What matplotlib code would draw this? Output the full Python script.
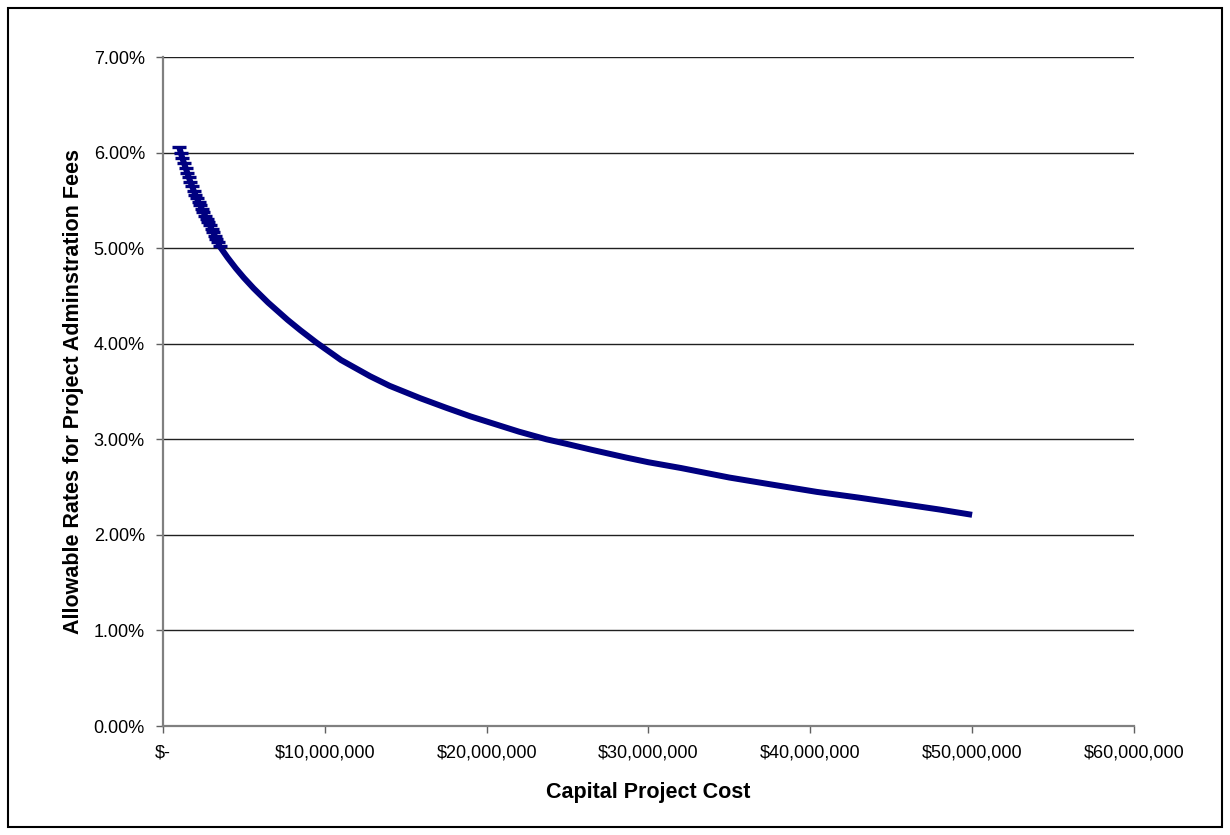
import matplotlib
matplotlib.use("Agg")
import matplotlib.pyplot as plt
from matplotlib.patches import Rectangle
from matplotlib.ticker import FuncFormatter, MultipleLocator

plt.rcParams['font.family'] = ['Liberation Sans', 'DejaVu Sans']

# capital project cost (dollars) and allowable admin fee rate (%)
cost = [1000000, 1100000, 1200000, 1300000, 1400000, 1500000, 1600000,
        1700000, 1800000, 1900000, 2000000, 2100000, 2200000, 2300000,
        2400000, 2500000, 2600000, 2700000, 2800000, 2900000, 3000000,
        3100000, 3200000, 3300000, 3400000, 3500000,
        4000000, 4500000, 5000000, 5600000, 6500000, 7700000, 8500000,
        9500000, 11000000, 12800000, 14000000, 15900000, 17500000,
        19000000, 20500000, 22000000, 23700000, 25000000, 26500000,
        28600000, 30000000, 32000000, 33500000, 35000000, 37500000,
        40400000, 43000000, 45800000, 48000000, 50000000]
rate = [6.06, 6.00, 5.94, 5.89, 5.84, 5.79, 5.74,
        5.69, 5.65, 5.60, 5.56, 5.52, 5.48, 5.45,
        5.41, 5.38, 5.34, 5.31, 5.27, 5.24, 5.20,
        5.17, 5.13, 5.10, 5.06, 5.02,
        4.90, 4.79, 4.69, 4.58, 4.43, 4.25, 4.14,
        4.01, 3.83, 3.66, 3.56, 3.43, 3.33,
        3.24, 3.16, 3.08, 3.00, 2.95, 2.89,
        2.81, 2.76, 2.70, 2.65, 2.60, 2.53,
        2.45, 2.39, 2.32, 2.265, 2.21]
n_marked = 26  # the closely spaced points at the low end show their dash markers

fig = plt.figure(figsize=(12.3, 8.35), dpi=100)
ax = fig.add_axes([0.1325, 0.1305, 0.7894, 0.8012])

ax.plot(cost, rate, color='#000080', lw=4.3, solid_capstyle='butt',
        solid_joinstyle='round', marker='_', markersize=10, markeredgewidth=2.4,
        markevery=slice(0, n_marked))

ax.set_xlim(0, 60000000)
ax.set_ylim(0, 7)
ax.xaxis.set_major_locator(MultipleLocator(10000000))
ax.yaxis.set_major_locator(MultipleLocator(1))
ax.xaxis.set_major_formatter(FuncFormatter(lambda v, p: '$-' if v == 0 else f'${v:,.0f}'))
ax.yaxis.set_major_formatter(FuncFormatter(lambda v, p: f'{v:.2f}%'))

ax.grid(axis='y', color='#202020', lw=1.0)
ax.set_axisbelow(True)
ygrid = ax.get_ygridlines()
ygrid[-1].set_color('#e6e6e6')

for s in ['top', 'right']:
    ax.spines[s].set_visible(False)
for s in ['left', 'bottom']:
    ax.spines[s].set_color('#808080')
    ax.spines[s].set_linewidth(1.6)

ax.tick_params(axis='both', direction='out', length=5, width=1, color='#606060',
               labelsize=13, labelcolor='black')
ax.tick_params(axis='x', pad=8)
ax.tick_params(axis='y', pad=8)

ax.set_xlabel('Capital Project Cost', fontsize=15.5, fontweight='bold', labelpad=15)
ax.set_ylabel('Allowable Rates for Project Adminstration Fees', fontsize=15.5,
              fontweight='bold', labelpad=7)

# outer frame around the chart area
fig.patches.append(Rectangle((8 / 1230, 8 / 835), 1214 / 1230, 819 / 835,
                             transform=fig.transFigure, fill=False,
                             edgecolor='black', lw=1.5))

fig.savefig('out.png', dpi=100)
